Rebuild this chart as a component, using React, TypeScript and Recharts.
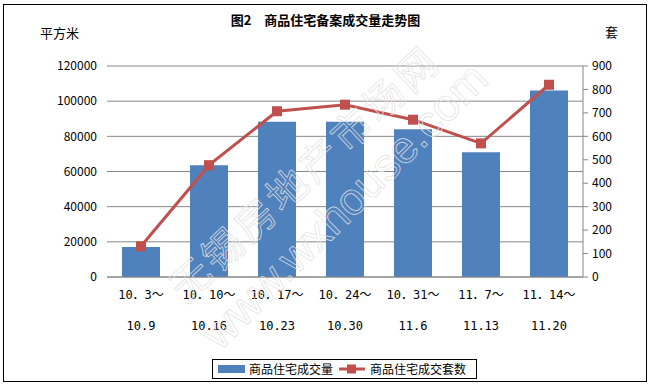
import React from 'react';
import { ComposedChart, Bar, Line, XAxis, YAxis, CartesianGrid, Legend } from 'recharts';

const periodStart = ['10．3～', '10．10～', '10．17～', '10．24～', '10．31～', '11．7～', '11．14～'];
const periodEnd = ['10.9', '10.16', '10.23', '10.30', '11.6', '11.13', '11.20'];
const areaValues = [17000, 63500, 88300, 88300, 84000, 71000, 106000];
const unitValues = [131, 477, 707, 735, 671, 570, 820];
const leftTicks = [0, 20000, 40000, 60000, 80000, 100000, 120000];
const rightTicks = [0, 100, 200, 300, 400, 500, 600, 700, 800, 900];

const title = '图2　商品住宅备案成交量走势图';
const leftUnit = '平方米';
const rightUnit = '套';
const barName = '商品住宅成交量';
const lineName = '商品住宅成交套数';
const watermark1 = '无锡房地产市场网';
const watermark2 = 'www.wxhouse.com';

const data = periodStart.map((p, i) => ({
  name: p,
  idx: i,
  area: areaValues[i],
  units: unitValues[i],
}));

const FONT = '"Noto Sans CJK SC", "DejaVu Sans", sans-serif';
const TICKFONT = '"DejaVu Sans Mono", "Noto Sans CJK SC", monospace';
const BLUE = '#4F81BD';
const RED = '#C0504D';
const GRID = '#868686';

const XTick = (props: any) => {
  const { x, y, payload } = props;
  const i = payload.index;
  return (
    <g>
      <text x={x} y={y + 22} textAnchor="middle" fontSize={12} fontFamily={TICKFONT} fill="#000">
        {periodStart[i]}
      </text>
      <text x={x} y={y + 53} textAnchor="middle" fontSize={12} fontFamily={TICKFONT} fill="#000">
        {periodEnd[i]}
      </text>
    </g>
  );
};

const SquareDot = (props: any) => {
  const { cx, cy, index } = props;
  if (cx == null || cy == null) return null;
  return <rect key={`d${index}`} x={cx - 5} y={cy - 5} width={10} height={10} fill={RED} />;
};

const LegendContent = () => (
  <div
    style={{
      boxSizing: 'border-box',
      width: 265,
      height: 20,
      border: '1px solid #000',
      display: 'flex',
      alignItems: 'center',
      fontFamily: FONT,
      fontSize: 12,
      color: '#000',
      background: '#fff',
      paddingLeft: 5,
    }}
  >
    <div style={{ width: 27, height: 8, background: BLUE, marginRight: 4 }} />
    <span style={{ marginRight: 6, lineHeight: '18px' }}>{barName}</span>
    <svg width={26} height={10} style={{ marginRight: 5 }}>
      <line x1={0} y1={5} x2={26} y2={5} stroke={RED} strokeWidth={3} />
      <rect x={8} y={0.5} width={9} height={9} fill={RED} />
    </svg>
    <span style={{ lineHeight: '18px' }}>{lineName}</span>
  </div>
);

export default function App() {
  return (
    <div style={{ position: 'absolute', left: 0, top: 0, width: 651, height: 386, background: '#fff' }}>
      <ComposedChart
        width={651}
        height={386}
        data={data}
        margin={{ top: 66, right: 0, bottom: 49, left: 0 }}
      >
        <CartesianGrid yAxisId="left" vertical={false} stroke={GRID} strokeWidth={1} />
        <XAxis
          dataKey="name"
          height={60}
          interval={0}
          tickLine={false}
          tickSize={0}
          tickMargin={0}
          axisLine={{ stroke: GRID }}
          tick={<XTick />}
        />
        <YAxis
          yAxisId="left"
          orientation="left"
          width={107}
          domain={[0, 120000]}
          ticks={leftTicks}
          axisLine={false}
          tickLine={false}
          tickSize={0}
          tickMargin={10}
          tick={{ fontSize: 12, fontFamily: FONT, fill: '#000' }}
        />
        <YAxis
          yAxisId="right"
          orientation="right"
          width={68}
          domain={[0, 900]}
          ticks={rightTicks}
          axisLine={{ stroke: GRID }}
          tickLine={{ stroke: GRID }}
          tickSize={5}
          tickMargin={4}
          tick={{ fontSize: 12, fontFamily: FONT, fill: '#000' }}
        />
        <Bar yAxisId="left" dataKey="area" name={barName} fill={BLUE} barSize={38} isAnimationActive={false} />
        <Line
          yAxisId="right"
          type="linear"
          dataKey="units"
          name={lineName}
          stroke={RED}
          strokeWidth={3}
          dot={<SquareDot />}
          activeDot={false}
          isAnimationActive={false}
        />
        <Legend
          layout="horizontal"
          verticalAlign="middle"
          align="center"
          wrapperStyle={{ left: 212, top: 359, width: 265, height: 20 }}
          content={<LegendContent />}
        />
      </ComposedChart>

      <svg
        width={651}
        height={386}
        style={{ position: 'absolute', left: 0, top: 0, pointerEvents: 'none' }}
      >
        <text
          x={186}
          y={304}
          transform="rotate(-43 186 304)"
          fontSize={40}
          fontFamily={FONT}
          fill="none"
          stroke="#e2e2e2"
          strokeWidth={0.7}
          letterSpacing={4}
        >
          {watermark1}
        </text>
        <text
          x={220}
          y={352}
          transform="rotate(-45 220 352)"
          fontSize={45}
          fontFamily={'"Liberation Sans", sans-serif'}
          fill="none"
          stroke="#e2e2e2"
          strokeWidth={0.7}
        >
          {watermark2}
        </text>
      </svg>

      <div
        style={{
          position: 'absolute',
          left: 0,
          width: 651,
          top: 11,
          textAlign: 'center',
          fontFamily: FONT,
          fontWeight: 'bold',
          fontSize: 13,
          lineHeight: '18px',
          color: '#000',
        }}
      >
        {title}
      </div>
      <div
        style={{
          position: 'absolute',
          left: 40,
          top: 24,
          fontFamily: FONT,
          fontSize: 13,
          lineHeight: '18px',
          color: '#000',
        }}
      >
        {leftUnit}
      </div>
      <div
        style={{
          position: 'absolute',
          left: 605,
          top: 23,
          fontFamily: FONT,
          fontSize: 13,
          lineHeight: '18px',
          color: '#000',
        }}
      >
        {rightUnit}
      </div>
      <div
        style={{
          position: 'absolute',
          left: 3,
          top: 4,
          width: 644,
          height: 378,
          boxSizing: 'border-box',
          border: '1px solid #000',
          pointerEvents: 'none',
        }}
      />
    </div>
  );
}
